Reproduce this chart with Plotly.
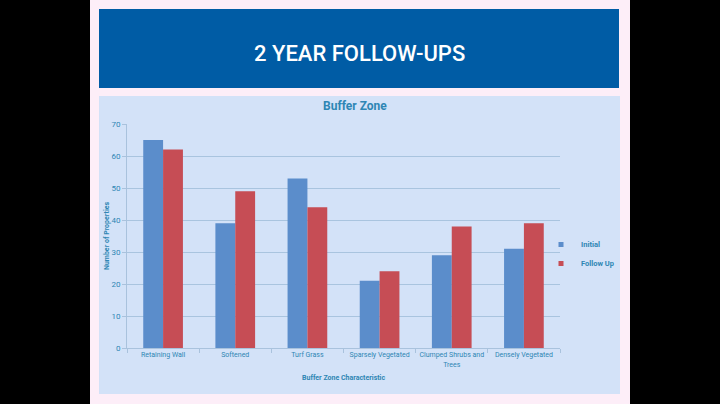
import plotly.graph_objects as go

categories = ["Retaining Wall", "Softened", "Turf Grass", "Sparsely Vegetated",
              "Clumped Shrubs and<br>Trees", "Densely Vegetated"]
initial = [65, 39, 53, 21, 29, 31]
follow_up = [62, 49, 44, 24, 38, 39]

W, H = 720, 404
teal = "#2E86B4"
font_main = "Roboto"
blue, red = "#5B8DCB", "#C64D55"


def px_x(v):
    return v / W


def px_y(v):
    return 1 - v / H


fig = go.Figure()
fig.add_trace(go.Bar(name="Initial", x=categories, y=initial, marker=dict(color=blue, line_width=0),
                     showlegend=False))
fig.add_trace(go.Bar(name="Follow Up", x=categories, y=follow_up, marker=dict(color=red, line_width=0),
                     showlegend=False))
# small square legend keys like the original
for name, col in [("Initial", blue), ("Follow Up", red)]:
    fig.add_trace(go.Scatter(name=name, x=[None], y=[None], mode="markers",
                             marker=dict(symbol="square", size=5, color=col)))

shapes = [
    # slide background
    dict(type="rect", xref="paper", yref="paper", x0=px_x(90), x1=px_x(630), y0=0, y1=1,
         fillcolor="#FDEEF8", line_width=0, layer="below"),
    # title banner
    dict(type="rect", xref="paper", yref="paper", x0=px_x(99), x1=px_x(619), y0=px_y(88), y1=px_y(9),
         fillcolor="#005CA5", line_width=0, layer="below"),
    # chart panel
    dict(type="rect", xref="paper", yref="paper", x0=px_x(99), x1=px_x(620), y0=px_y(394), y1=px_y(96),
         fillcolor="#D3E2F8", line_width=0, layer="below"),
]

annotations = [
    dict(text="2 YEAR FOLLOW-UPS", x=px_x(359), y=px_y(53), xref="paper", yref="paper",
         showarrow=False, font=dict(family=font_main, size=22, color="white", weight=500),
         xanchor="center", yanchor="middle"),
    dict(text="<b>Buffer Zone</b>", x=px_x(355), y=px_y(106), xref="paper", yref="paper",
         showarrow=False, font=dict(family=font_main, size=12, color=teal),
         xanchor="center", yanchor="middle"),
    dict(text="<b>Buffer Zone Characteristic</b>", x=px_x(343), y=px_y(378), xref="paper", yref="paper",
         showarrow=False, font=dict(family=font_main, size=7, color=teal),
         xanchor="center", yanchor="middle"),
    dict(text="<b>Number of Properties</b>", x=px_x(107), y=px_y(236), xref="paper", yref="paper",
         showarrow=False, textangle=-90, font=dict(family=font_main, size=7, color=teal),
         xanchor="center", yanchor="middle"),
]

fig.update_layout(
    width=W, height=H,
    margin=dict(l=0, r=0, t=0, b=0, autoexpand=False),
    paper_bgcolor="black",
    plot_bgcolor="rgba(0,0,0,0)",
    barmode="group",
    bargap=0.45,
    bargroupgap=0,
    shapes=shapes,
    annotations=annotations,
    font=dict(family=font_main, size=7, color=teal),
    legend=dict(x=px_x(541), y=px_y(254), xanchor="left", yanchor="middle",
                bgcolor="rgba(0,0,0,0)", font=dict(size=7.5, color=teal, weight="bold"),
                itemwidth=30, tracegroupgap=0),
    xaxis=dict(domain=[px_x(127), px_x(560)], showline=True, linecolor="#A9C2DD", linewidth=1,
               ticks="outside", tickson="boundaries", ticklen=4, tickcolor="#A9C2DD",
               tickangle=0, automargin=False,
               tickfont=dict(size=7, color=teal), showgrid=False),
    yaxis=dict(domain=[px_y(348), px_y(124)], range=[0, 70], dtick=10,
               showline=True, linecolor="#A9C2DD", linewidth=1,
               ticks="outside", ticklen=4, tickcolor="#A9C2DD", automargin=False,
               gridcolor="#A9C4DF", gridwidth=1, zeroline=False,
               tickfont=dict(size=8, color=teal)),
)

fig.write_html("out.html", config={"displayModeBar": False},
               post_script="document.body.style.margin='0';")
